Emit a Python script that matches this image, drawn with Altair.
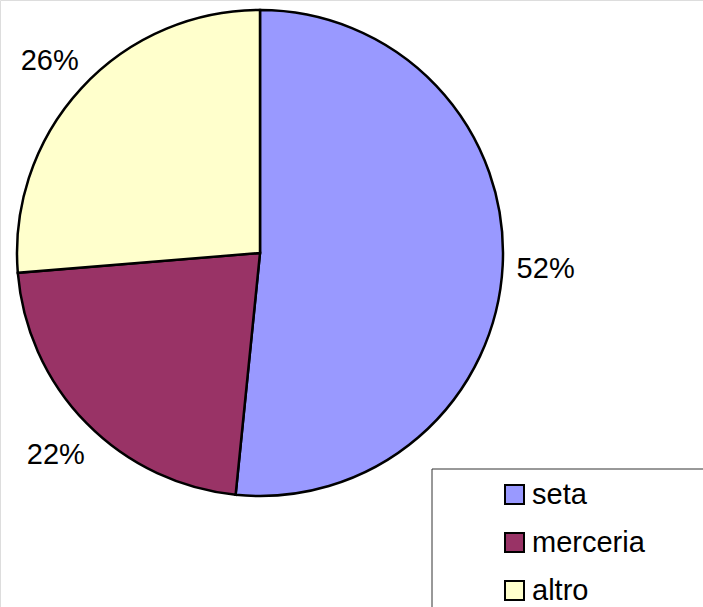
import altair as alt
import pandas as pd

categories = ["seta", "merceria", "altro"]
values = [51.6, 22.1, 26.3]
labels = ["52%", "22%", "26%"]
colors = ["#9999FF", "#993366", "#FFFFCC"]

df = pd.DataFrame({"cat": categories, "val": values, "lab": labels, "ord": list(range(len(categories)))})

CX, CY, R = 260, 253, 243
FONT = "Liberation Sans"

color = alt.Color(
    "cat:N",
    scale=alt.Scale(domain=categories, range=colors),
    legend=alt.Legend(
        title=None,
        orient="none",
        legendX=500,
        legendY=480,
        symbolType="square",
        symbolSize=361,
        symbolStrokeColor="black",
        symbolStrokeWidth=2,
        symbolOpacity=1,
        labelFont=FONT,
        labelFontSize=29,
        labelColor="black",
        labelOffset=3,
        rowPadding=18,
        padding=0,
    ),
)

base = alt.Chart(df).encode(
    theta=alt.Theta("val:Q", stack=True),
    order=alt.Order("ord:Q"),
    x=alt.value(CX),
    y=alt.value(CY),
)

arcs = base.mark_arc(outerRadius=R, stroke="black", strokeWidth=2.5).encode(color=color)

texts = base.mark_text(radius=286, font=FONT, fontSize=29, color="black", dy=2).encode(text="lab:N")

box_df = pd.DataFrame({"k": [0]})
box = alt.Chart(box_df).mark_rect(fill="white", stroke="#333333", strokeWidth=1).encode(
    x=alt.value(432), x2=alt.value(720), y=alt.value(469), y2=alt.value(620)
)

chart = alt.layer(arcs, box, texts).properties(
    width=703, height=607, autosize=alt.AutoSizeParams(type="none"), padding=0
).configure_view(stroke=None).configure(background="white")

chart.save("out.html", embed_options={"renderer": "svg", "actions": False})
